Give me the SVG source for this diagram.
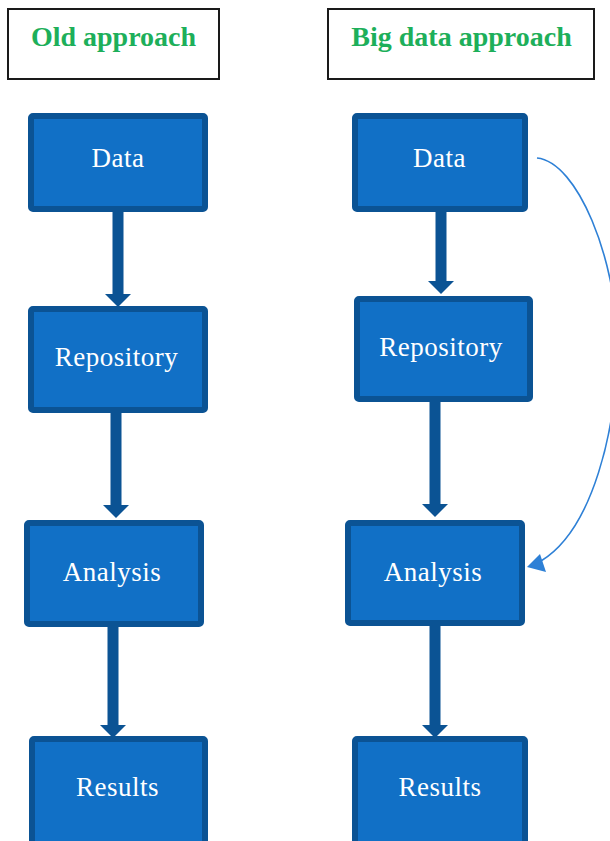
<svg xmlns="http://www.w3.org/2000/svg" width="610" height="841" viewBox="0 0 610 841">
  <style>
    .title-box { fill: #ffffff; stroke: #1a1a1a; stroke-width: 2; }
    .title { font-family: "Liberation Serif", "Times New Roman", serif; font-size: 28px; font-weight: bold; fill: #1DAF5A; text-anchor: middle; }
    .box { fill: #1170C6; stroke: #0B5394; stroke-width: 6; }
    .label { font-family: "Liberation Serif", "Times New Roman", serif; font-size: 27px; letter-spacing: 0.5px; fill: #ffffff; text-anchor: middle; }
    .flow { stroke: #0B5394; stroke-width: 11; fill: none; marker-end: url(#thick-head); }
    .bypass { stroke: #2E80D6; stroke-width: 1.6; fill: none; }
  </style>
  <defs>
    <marker id="thick-head" markerUnits="userSpaceOnUse" markerWidth="14" markerHeight="28" viewBox="0 0 14 28" refX="1" refY="14" orient="auto">
      <path d="M0,1 L13,14 L0,27 Z" fill="#0B5394"/>
    </marker>
  </defs>

  <rect width="610" height="841" fill="#ffffff"/>

  <!-- column headings -->
  <g id="heading-old">
    <rect class="title-box" x="8" y="9" width="211" height="70"/>
    <text class="title" x="113.5" y="46">Old approach</text>
  </g>
  <g id="heading-big">
    <rect class="title-box" x="328" y="9" width="266" height="70"/>
    <text class="title" x="461.5" y="46">Big data approach</text>
  </g>

  <!-- connectors -->
  <g id="connectors">
    <line class="flow" x1="118" y1="209" x2="118" y2="295"/>
    <line class="flow" x1="116" y1="410" x2="116" y2="506"/>
    <line class="flow" x1="113" y1="615" x2="113" y2="726"/>
    <line class="flow" x1="441" y1="209" x2="441" y2="282"/>
    <line class="flow" x1="435" y1="393" x2="435" y2="505"/>
    <line class="flow" x1="435" y1="615" x2="435" y2="726"/>
    <path class="bypass" d="M537,158 C578,162 616,260 617,340 C618,430 592,530 541,561"/>
    <polygon points="527,567 540,554 546,572" fill="#2E80D6"/>
  </g>

  <!-- old approach column -->
  <g id="old-data">
    <rect class="box" x="31" y="116" width="174" height="93" rx="2"/>
    <text class="label" x="118" y="167">Data</text>
  </g>
  <g id="old-repository">
    <rect class="box" x="31" y="309" width="174" height="101" rx="2"/>
    <text class="label" x="116.5" y="366">Repository</text>
  </g>
  <g id="old-analysis">
    <rect class="box" x="27" y="523" width="174" height="101" rx="2"/>
    <text class="label" x="112" y="581">Analysis</text>
  </g>
  <g id="old-results">
    <rect class="box" x="32" y="739" width="173" height="110" rx="2"/>
    <text class="label" x="117.5" y="796">Results</text>
  </g>

  <!-- big data approach column -->
  <g id="big-data">
    <rect class="box" x="355" y="116" width="170" height="93" rx="2"/>
    <text class="label" x="439.5" y="167">Data</text>
  </g>
  <g id="big-repository">
    <rect class="box" x="357" y="299" width="173" height="100" rx="2"/>
    <text class="label" x="441" y="356">Repository</text>
  </g>
  <g id="big-analysis">
    <rect class="box" x="348" y="523" width="174" height="100" rx="2"/>
    <text class="label" x="433" y="581">Analysis</text>
  </g>
  <g id="big-results">
    <rect class="box" x="355" y="739" width="170" height="110" rx="2"/>
    <text class="label" x="440" y="796">Results</text>
  </g>
</svg>
